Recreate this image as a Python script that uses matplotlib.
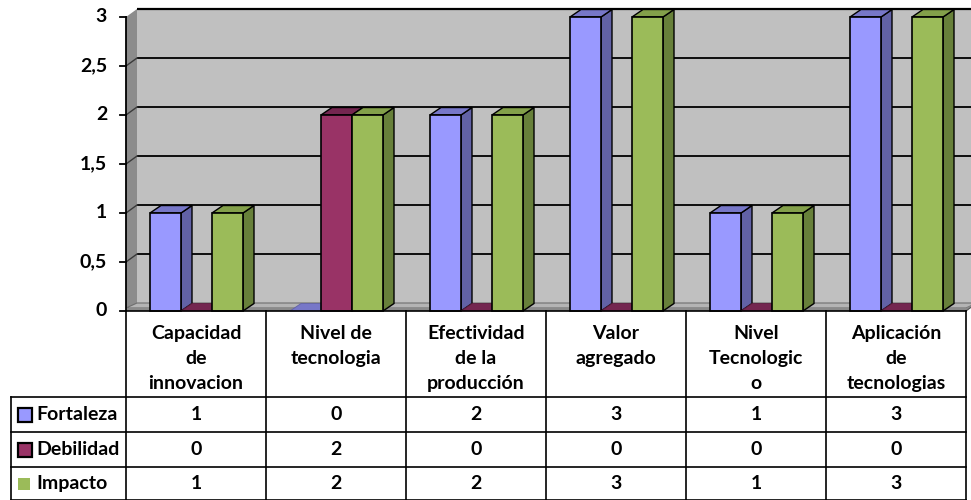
import matplotlib
matplotlib.use("Agg")
import matplotlib.pyplot as plt
from matplotlib.patches import Polygon, Rectangle

# ---- data -------------------------------------------------------------
categories = [
    "Capacidad\nde\ninnovacion",
    "Nivel de\ntecnologia",
    "Efectividad\nde la\nproducción",
    "Valor\nagregado",
    "Nivel\nTecnologic\no",
    "Aplicación\nde\ntecnologias",
]
series_names = ["Fortaleza", "Debilidad", "Impacto"]
fortaleza = [1, 0, 2, 3, 1, 3]
debilidad = [0, 2, 0, 0, 0, 0]
impacto = [1, 2, 2, 3, 1, 3]
y_ticks = [0, 0.5, 1, 1.5, 2, 2.5, 3]
y_tick_labels = ["0", "0,5", "1", "1,5", "2", "2,5", "3"]

series_values = [fortaleza, debilidad, impacto]
# front, top, side colours of each series
face_colors = [
    ("#9999FF", "#7777C8", "#6262A6"),
    ("#993366", "#742650", "#5E1D40"),
    ("#9BBB59", "#83A04A", "#67803A"),
]

FONT = "Lato"
FS = 14
plt.rcParams["font.family"] = FONT
plt.rcParams["font.weight"] = "bold"

W, H = 971, 500
fig = plt.figure(figsize=(W / 100, H / 100), dpi=100)

# plot region (pixels): x from 126 to 966, value 0 at row 311, value 3 at row 17
X0, X1, Y0, Y1 = 126, 966, 311, 17
ax = fig.add_axes([X0 / W, 1 - Y0 / H, (X1 - X0) / W, (Y0 - Y1) / H])
n = len(categories)
ymax = y_ticks[-1]
ax.set_xlim(0, n)
ax.set_ylim(0, ymax)
ax.axis("off")

px_x = (X1 - X0) / n          # pixels per category
px_y = (Y0 - Y1) / ymax       # pixels per value unit
wdx, wdy = 11 / px_x, 8 / px_y          # wall depth
bdx, bdy = 11 / px_x, 7.5 / px_y        # bar depth
slab = 3 / px_y                          # floor thickness

# back wall
ax.add_patch(Rectangle((wdx, wdy), n + 0.2, ymax, facecolor="#C0C0C0",
                       edgecolor="none", clip_on=False, zorder=1))
ax.plot([wdx, n + 0.2], [ymax + wdy, ymax + wdy], color="black", lw=1.6,
        clip_on=False, zorder=2, solid_capstyle="butt")
# side wall
ax.add_patch(Polygon([(0, 0), (0, ymax), (wdx, ymax + wdy), (wdx, wdy)],
                     closed=True, facecolor="#8C8C8C", edgecolor="none",
                     clip_on=False, zorder=1))
# gridlines on back wall and side wall
for t in y_ticks[1:-1]:
    ax.plot([wdx, n + 0.2], [t + wdy, t + wdy], color="black", lw=1.3,
            clip_on=False, zorder=2, solid_capstyle="butt")
    ax.plot([0, wdx], [t, t + wdy], color="#3a3a3a", lw=1.0,
            clip_on=False, zorder=2)
# floor: top face and thin front slab
ax.add_patch(Polygon([(0, slab), (n, slab), (n + wdx, wdy), (wdx, wdy)],
                     closed=True, facecolor="#B4B4B4", edgecolor="#6E6E6E",
                     lw=0.8, clip_on=False, zorder=2))
ax.add_patch(Polygon([(0, 0), (n, 0), (n + wdx, wdy), (n, slab), (0, slab)],
                     closed=True, facecolor="#8A8A8A", edgecolor="none",
                     clip_on=False, zorder=2))
ax.plot([n, n + wdx], [0, wdy], color="#555555", lw=0.8, clip_on=False, zorder=2)

# bars
bar_w = 31 / px_x
first_off = 24 / px_x
z = 3
for j in range(n):
    for i, vals in enumerate(series_values):
        v = vals[j]
        x0 = j + first_off + i * bar_w
        x1 = x0 + bar_w
        front, top, side = face_colors[i]
        if v > 0:
            ax.add_patch(Polygon([(x1, 0), (x1 + bdx, bdy), (x1 + bdx, v + bdy), (x1, v)],
                                 closed=True, facecolor=side, edgecolor="black",
                                 lw=1.0, zorder=z, clip_on=False))
            ax.add_patch(Polygon([(x0, v), (x1, v), (x1 + bdx, v + bdy), (x0 + bdx, v + bdy)],
                                 closed=True, facecolor=top, edgecolor="black",
                                 lw=1.0, zorder=z, clip_on=False))
            ax.add_patch(Rectangle((x0, 0), bar_w, v, facecolor=front,
                                   edgecolor="black", lw=1.2, zorder=z, clip_on=False))
        else:
            ax.add_patch(Polygon([(x0, 0), (x1, 0), (x1 + bdx, bdy), (x0 + bdx, bdy)],
                                 closed=True, facecolor=top, edgecolor=side,
                                 lw=0.6, zorder=z, clip_on=False))
        z += 0.01

# value axis line, ticks and labels
ax.plot([0, 0], [0, ymax], color="black", lw=1.3, clip_on=False, zorder=6)
tick_len = 6 / px_x
for t, lab in zip(y_ticks, y_tick_labels):
    ax.plot([-tick_len, 0], [t, t], color="black", lw=1.3, clip_on=False, zorder=6)
    ax.text(-19 / px_x, t, lab, ha="right", va="center", fontsize=FS,
            fontweight="bold", family=FONT, zorder=6)

# ---- data table under the chart (pixel overlay) ------------------------
ov = fig.add_axes([0, 0, 1, 1])
ov.set_xlim(0, W)
ov.set_ylim(H, 0)
ov.axis("off")
ov.patch.set_alpha(0)

col_edges = [X0 + k * px_x for k in range(n + 1)]
header_bottom = 397
row_edges = [397, 432, 467, 500]
legend_left = 11
lc = "black"
lw = 1.2
# top border of table = category axis
ov.plot([X0, X1], [Y0, Y0], color=lc, lw=lw)
for x in col_edges:
    ov.plot([x, x], [Y0, H], color=lc, lw=lw)
for r in row_edges[:-1]:
    ov.plot([legend_left, X1], [r, r], color=lc, lw=lw)
ov.plot([legend_left, X1], [H - 0.5, H - 0.5], color=lc, lw=lw)
ov.plot([legend_left, legend_left], [header_bottom, H], color=lc, lw=lw)

# category header text
for j, cat in enumerate(categories):
    cx = (col_edges[j] + col_edges[j + 1]) / 2
    ov.text(cx, 325, cat, ha="center", va="top", fontsize=FS,
            fontweight="bold", family=FONT, linespacing=1.56)

# rows: legend key, series name, values
for i, (name, vals) in enumerate(zip(series_names, series_values)):
    cy = (row_edges[i] + row_edges[i + 1]) / 2
    if i < 2:
        ov.add_patch(Rectangle((18, cy - 7), 14, 14, facecolor=face_colors[i][0],
                               edgecolor="black", lw=1.6))
    else:
        ov.add_patch(Rectangle((18, cy - 6), 12, 12, facecolor=face_colors[i][0],
                               edgecolor="none"))
    ov.text(36, cy, name, ha="left", va="center", fontsize=FS,
            fontweight="bold", family=FONT)
    for j, v in enumerate(vals):
        cx = (col_edges[j] + col_edges[j + 1]) / 2
        ov.text(cx, cy, str(v), ha="center", va="center", fontsize=FS,
                fontweight="bold", family=FONT)

fig.savefig("out.png", dpi=100)
